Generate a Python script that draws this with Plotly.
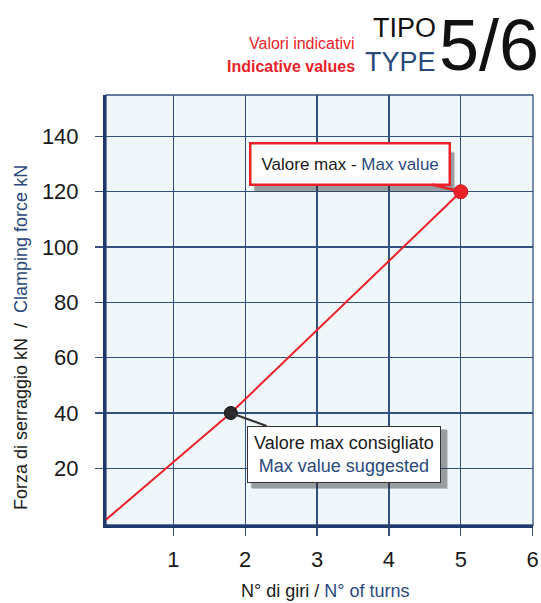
import plotly.graph_objects as go

# ---- data ----
line_x = [0, 1.8, 5]
line_y = [0, 40, 120]
suggested_x = [1.8]
suggested_y = [40]
max_x = [5]
max_y = [120]
x_ticks = [1, 2, 3, 4, 5, 6]
y_ticks = [20, 40, 60, 80, 100, 120, 140]

FONT = "Liberation Sans, Arial, sans-serif"
NAVY = "#1f3b6e"
TXT_BLUE = "#2b4a7c"
RED = "#ea2129"
GRID = "#34507e"

W, H = 541, 603
L, R, T, B = 106, 8, 95, 78
pw, ph = W - L - R, H - T - B


def px(xp):
    return (xp - L) / pw


def py(yp):
    return (H - B - yp) / ph


fig = go.Figure()

fig.add_trace(go.Scatter(x=line_x, y=line_y, mode="lines",
                         line=dict(color=RED, width=2), hoverinfo="skip",
                         showlegend=False))
fig.add_trace(go.Scatter(x=suggested_x, y=suggested_y, mode="markers",
                         marker=dict(color="#2a2a2a", size=13,
                                     line=dict(color="#111111", width=1)),
                         showlegend=False, cliponaxis=False))
fig.add_trace(go.Scatter(x=max_x, y=max_y, mode="markers",
                         marker=dict(color=RED, size=14,
                                     line=dict(color="#c81a20", width=1)),
                         showlegend=False, cliponaxis=False))

fig.update_xaxes(range=[0.064, 6.004], tickvals=x_ticks,
                 showgrid=True, gridcolor=GRID, gridwidth=1.3,
                 showline=True, linecolor=NAVY, linewidth=3,
                 ticks="outside", ticklen=8, tickcolor=GRID, tickwidth=1.3,
                 tickfont=dict(family=FONT, size=22, color="#1a1a1a"),
                 ticklabelstandoff=5, zeroline=False, automargin=False)
fig.update_yaxes(range=[-0.5, 155], tickvals=y_ticks,
                 showgrid=True, gridcolor=GRID, gridwidth=1.3,
                 showline=True, linecolor=NAVY, linewidth=3,
                 ticks="outside", ticklen=8, tickcolor=GRID, tickwidth=1.3,
                 tickfont=dict(family=FONT, size=22, color="#1a1a1a"),
                 ticklabelstandoff=12, zeroline=False, automargin=False)

# thin border on top/right
fig.add_shape(type="rect", xref="paper", yref="paper", x0=0, x1=1, y0=0, y1=1,
              line=dict(color=GRID, width=1.3), layer="below")

# soft drop shadows behind the callout boxes (pixel-sized, anchored to the points)
for dx in (0, 1):
    fig.add_shape(type="rect", xref="x", yref="y", xsizemode="pixel", ysizemode="pixel",
                  xanchor=max_x[0], yanchor=max_y[0],
                  x0=-207 + dx, x1=-7 + dx, y0=1 - dx, y1=40 - dx,
                  fillcolor="rgba(40,40,40,0.25)", line=dict(width=0), layer="above")
    fig.add_shape(type="rect", xref="x", yref="y", xsizemode="pixel", ysizemode="pixel",
                  xanchor=suggested_x[0], yanchor=suggested_y[0],
                  x0=20 + dx, x1=216 + dx, y0=-16 - dx, y1=-75 - dx,
                  fillcolor="rgba(40,40,40,0.25)", line=dict(width=0), layer="above")

anns = []
# boxes
anns.append(dict(x=5, y=120, xref="x", yref="y", ax=-111, ay=-28,
                 text="Valore max - <span style='color:%s'>Max value</span>" % TXT_BLUE,
                 showarrow=True, arrowwidth=2.5, arrowcolor=RED, arrowhead=0,
                 font=dict(family=FONT, size=17, color="#1a1a1a"),
                 bgcolor="white", borderpad=10, borderwidth=2.5, bordercolor=RED))
anns.append(dict(x=1.8, y=40, xref="x", yref="y", ax=113, ay=41,
                 text="Valore max consigliato<br><span style='color:%s'>Max value suggested</span>" % TXT_BLUE,
                 showarrow=True, arrowwidth=2, arrowcolor="#333333", arrowhead=0,
                 font=dict(family=FONT, size=18, color="#1a1a1a"),
                 bgcolor="white", borderpad=6, borderwidth=1, bordercolor="#333333"))
# axis titles
anns.append(dict(x=px(325), y=py(591), xref="paper", yref="paper", yanchor="middle",
                 text="N° di giri / <span style='color:%s'>N° of turns</span>" % TXT_BLUE,
                 showarrow=False, font=dict(family=FONT, size=18, color="#1a1a1a")))
anns.append(dict(x=px(21), y=py(338), xref="paper", yref="paper", xanchor="center",
                 yanchor="middle", textangle=-90,
                 text="Forza di serraggio kN  /  <span style='color:%s'>Clamping force kN</span>" % TXT_BLUE,
                 showarrow=False, font=dict(family=FONT, size=18, color="#1a1a1a")))
# header
hdr = [
    dict(x=px(357), y=py(44), xanchor="right", yanchor="middle", text="Valori indicativi",
         font=dict(family=FONT, size=16, color=RED)),
    dict(x=px(357), y=py(67), xanchor="right", yanchor="middle", text="<b>Indicative values</b>",
         font=dict(family=FONT, size=16, color=RED)),
    dict(x=px(438), y=py(28), xanchor="right", yanchor="middle", text="TIPO",
         font=dict(family=FONT, size=27, color="#111111")),
    dict(x=px(438), y=py(62), xanchor="right", yanchor="middle", text="TYPE",
         font=dict(family=FONT, size=27, color=TXT_BLUE)),
    dict(x=px(541), y=py(45), xanchor="right", yanchor="middle", text="5/6",
         font=dict(family=FONT, size=72, color="#111111")),
]
for h in hdr:
    h.update(xref="paper", yref="paper", showarrow=False)
    anns.append(h)

fig.update_layout(annotations=anns)
fig.update_layout(width=W, height=H, autosize=False,
                  margin=dict(l=L, r=R, t=T, b=B, pad=0, autoexpand=False),
                  plot_bgcolor="#eff7fb", paper_bgcolor="white", showlegend=False)

fig.write_html("out.html",
               config={"responsive": False, "displayModeBar": False, "staticPlot": True},
               post_script="document.body.style.margin='0';document.body.style.overflow='hidden';")
